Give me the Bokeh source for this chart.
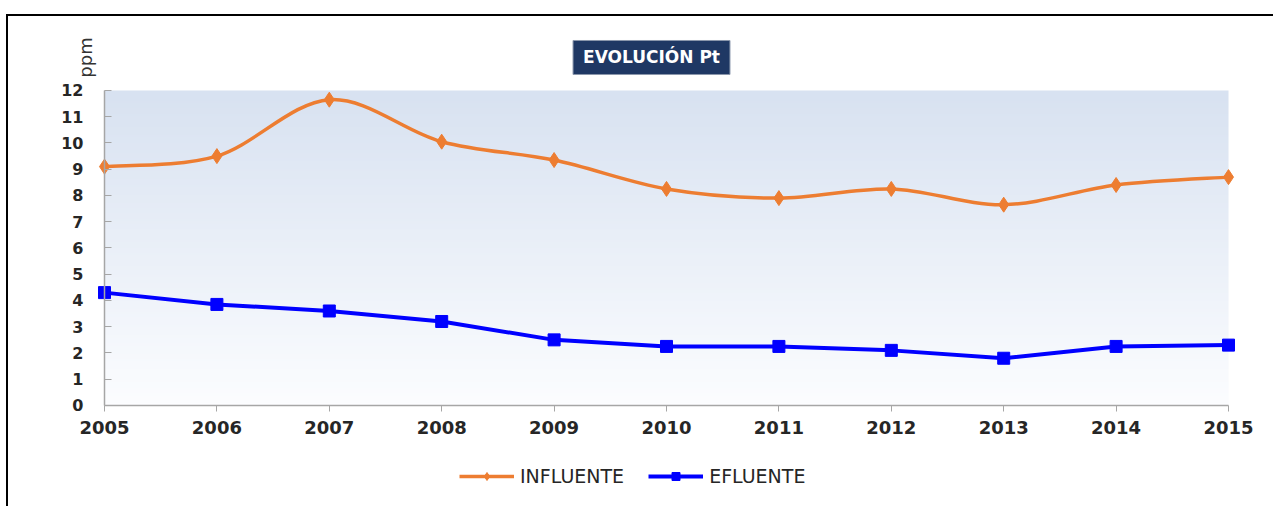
import numpy as np
from bokeh.plotting import figure
from bokeh.models import Range1d, FixedTicker, Label, Legend, LegendItem
from bokeh.embed import file_html
from bokeh.resources import INLINE

# ---------------- data ----------------
years = [2005, 2006, 2007, 2008, 2009, 2010, 2011, 2012, 2013, 2014, 2015]
influente = [9.1, 9.5, 11.65, 10.05, 9.35, 8.25, 7.9, 8.25, 7.65, 8.4, 8.7]
efluente = [4.3, 3.85, 3.6, 3.2, 2.5, 2.25, 2.25, 2.1, 1.8, 2.25, 2.3]
y_ticks = list(range(0, 13))
series_names = ["INFLUENTE", "EFLUENTE"]
title_text = "EVOLUCIÓN Pt"
y_label = "ppm"

ORANGE = "#ED7D31"
BLUE = "#0000FF"
AXIS = "#a6a6a6"
TXT = "#262626"
FONT = "DejaVu Sans"

p = figure(width=1267, height=492, output_backend="svg", toolbar_location=None,
           x_range=Range1d(2004.1459, 2015.4181), y_range=Range1d(-3.924, 14.819),
           min_border_left=0, min_border_right=0, min_border_top=0, min_border_bottom=0)
p.styles = {"border-top": "2px solid black", "border-left": "2px solid black",
            "transform": "translate(6px, 14px)"}
p.outline_line_color = None
p.background_fill_color = "white"
p.border_fill_color = "white"
p.grid.visible = False

# gradient plot area background
n = 120
t = np.linspace(0.0, 1.0, n)[:, None]
c_bot = np.array([252, 253, 255])
c_top = np.array([216, 226, 241])
cols = (c_bot + (c_top - c_bot) * t).astype(np.uint8)
img = np.zeros((n, 2), dtype=np.uint32)
view = img.view(dtype=np.uint8).reshape((n, 2, 4))
view[:, :, 0] = cols[:, 0][:, None]
view[:, :, 1] = cols[:, 1][:, None]
view[:, :, 2] = cols[:, 2][:, None]
view[:, :, 3] = 255
p.image_rgba(image=[img], x=years[0], y=y_ticks[0], dw=years[-1] - years[0], dh=y_ticks[-1] - y_ticks[0])

# axes drawn at fixed data locations (frame covers the whole canvas)
p.xaxis.fixed_location = y_ticks[0]
p.xaxis.ticker = FixedTicker(ticks=years)
p.xaxis.bounds = (years[0], years[-1])
p.xaxis.axis_line_color = AXIS
p.xaxis.axis_line_width = 1.5
p.xaxis.major_tick_line_color = AXIS
p.xaxis.major_tick_in = 0
p.xaxis.major_tick_out = 6
p.xaxis.minor_tick_line_color = None
p.xaxis.major_label_standoff = 10
p.xaxis.major_label_text_font = FONT
p.xaxis.major_label_text_font_style = "bold"
p.xaxis.major_label_text_font_size = "18px"
p.xaxis.major_label_text_color = TXT

p.yaxis.fixed_location = years[0]
p.yaxis.ticker = FixedTicker(ticks=y_ticks)
p.yaxis.bounds = (y_ticks[0], y_ticks[-1])
p.yaxis.axis_line_color = AXIS
p.yaxis.axis_line_width = 1.5
p.yaxis.major_tick_line_color = AXIS
p.yaxis.minor_tick_line_color = None
p.yaxis.major_tick_in = 7
p.yaxis.major_tick_out = 0
p.yaxis.major_label_standoff = 21
p.yaxis.major_label_text_font = FONT
p.yaxis.major_label_text_font_style = "bold"
p.yaxis.major_label_text_font_size = "16px"
p.yaxis.major_label_text_color = TXT

# smoothed influente (Catmull-Rom -> cubic Bezier)
xs = np.array(years, dtype=float)
ys = np.array(influente, dtype=float)
m = len(xs)
x0, y0, x1, y1, cx0, cy0, cx1, cy1 = [], [], [], [], [], [], [], []
for i in range(m - 1):
    im1 = max(i - 1, 0)
    ip2 = min(i + 2, m - 1)
    x0.append(xs[i]); y0.append(ys[i]); x1.append(xs[i + 1]); y1.append(ys[i + 1])
    cx0.append(xs[i] + (xs[i + 1] - xs[im1]) / 6.0)
    cy0.append(ys[i] + (ys[i + 1] - ys[im1]) / 6.0)
    cx1.append(xs[i + 1] - (xs[ip2] - xs[i]) / 6.0)
    cy1.append(ys[i + 1] - (ys[ip2] - ys[i]) / 6.0)
bez = p.bezier(x0=x0, y0=y0, x1=x1, y1=y1, cx0=cx0, cy0=cy0, cx1=cx1, cy1=cy1,
               line_color=ORANGE, line_width=3.5)
sc1 = p.scatter(years, influente, marker="diamond", size=15, fill_color=ORANGE, line_color=ORANGE)

ln2 = p.line(years, efluente, line_color=BLUE, line_width=4)
sc2 = p.scatter(years, efluente, marker="square", size=12, fill_color=BLUE, line_color=BLUE)

legend = Legend(items=[LegendItem(label=series_names[0], renderers=[bez, sc1]),
                       LegendItem(label=series_names[1], renderers=[ln2, sc2])],
                orientation="horizontal", location=(451, 21),
                glyph_width=55, glyph_height=20, label_standoff=6, spacing=24,
                padding=0, margin=0, border_line_color=None, background_fill_alpha=0,
                label_text_font=FONT, label_text_font_size="19px", label_text_color=TXT)
p.add_layout(legend)

# title box
p.add_layout(Label(x=2010, y=y_ticks[-1], x_offset=-15, y_offset=33, text=title_text,
                   text_align="center", text_baseline="middle",
                   text_font=FONT, text_font_style="bold", text_font_size="17px",
                   text_color="white", background_fill_color="#1f3864",
                   border_line_color="#8b97ad", padding=dict(left=10, right=10, top=7, bottom=7)))

# y label
p.add_layout(Label(x=years[0], y=y_ticks[-1], x_offset=-19, y_offset=33, text=y_label, angle=np.pi / 2,
                   text_align="center", text_baseline="middle",
                   text_font=FONT, text_font_size="18px", text_color="#333333"))

open("out.html", "w").write(file_html(p, INLINE))
